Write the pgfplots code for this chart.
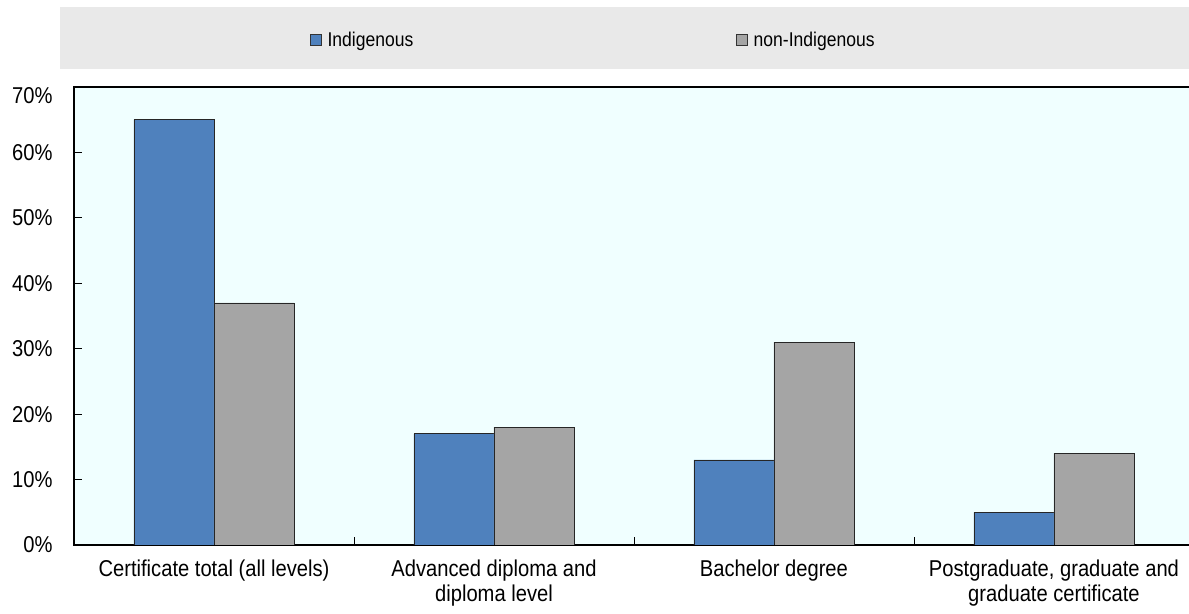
\documentclass[border=0pt]{standalone}
\usepackage{pgfplots}
\pgfplotsset{compat=1.18}
\usepackage{fontspec}
\setmainfont{Liberation Sans}[FakeStretch=0.88]
\definecolor{indig}{HTML}{4F81BD}
\definecolor{nonind}{HTML}{A5A5A5}
\definecolor{plotbg}{HTML}{F0FFFF}
\definecolor{legbg}{HTML}{E9E9E9}
\begin{document}
\begin{tikzpicture}[x=1bp,y=1bp]
\path[use as bounding box] (0,0) rectangle (1189,614);
\fill[legbg] (60,545) rectangle (1189,607);
\begin{axis}[
  at={(74bp,69bp)}, anchor=south west,
  scale only axis, width=1120bp, height=458bp,
  ybar=0pt, bar width=80bp,
  xmin=-0.5, xmax=3.5, ymin=0, ymax=70,
  axis background/.style={fill=plotbg},
  axis line style={line width=1.1bp, black},
  xtick={0,1,2,3},
  xticklabels={Certificate total (all levels),{Advanced diploma and\\diploma level},Bachelor degree,{Postgraduate, graduate and\\graduate certificate}},
  major x tick style={draw=none},
  minor xtick={0.5,1.5,2.5},
  minor tick length=8bp,
  major tick length=8bp,
  tick align=inside,
  xtick pos=bottom, ytick pos=left,
  tick style={black, line width=0.8bp},
  xticklabel style={font=\fontsize{23}{25}\selectfont, align=center, yshift=-11bp},
  ytick={0,10,20,30,40,50,60},
  yticklabels={0\%,10\%,20\%,30\%,40\%,50\%,60\%},
  extra y ticks={70},
  extra y tick labels={70\%},
  extra y tick style={yticklabel style={yshift=-9bp}},
  yticklabel style={font=\fontsize{23}{25}\selectfont, xshift=-18bp},
  legend columns=2,
  legend style={at={(axis description cs:0.2107,1.1026)}, anchor=west, draw=none, fill=none,
    font=\fontsize{20}{22}\selectfont, inner sep=0pt,
    /tikz/every even column/.append style={column sep=321bp}},
  legend image code/.code={\path[draw=none,fill=none] (0bp,0bp) -- (15bp,0bp);\draw[#1,draw=black!80,line width=0.8bp] (0bp,-5.5bp) rectangle (11bp,5.5bp);},
]
\addplot[fill=indig, draw=black!85, line width=0.8bp] coordinates {(0,65) (1,17) (2,13) (3,5)};
\addplot[fill=nonind, draw=black!85, line width=0.8bp] coordinates {(0,37) (1,18) (2,31) (3,14)};
\legend{Indigenous,non-Indigenous}
\end{axis}
\end{tikzpicture}
\end{document}
